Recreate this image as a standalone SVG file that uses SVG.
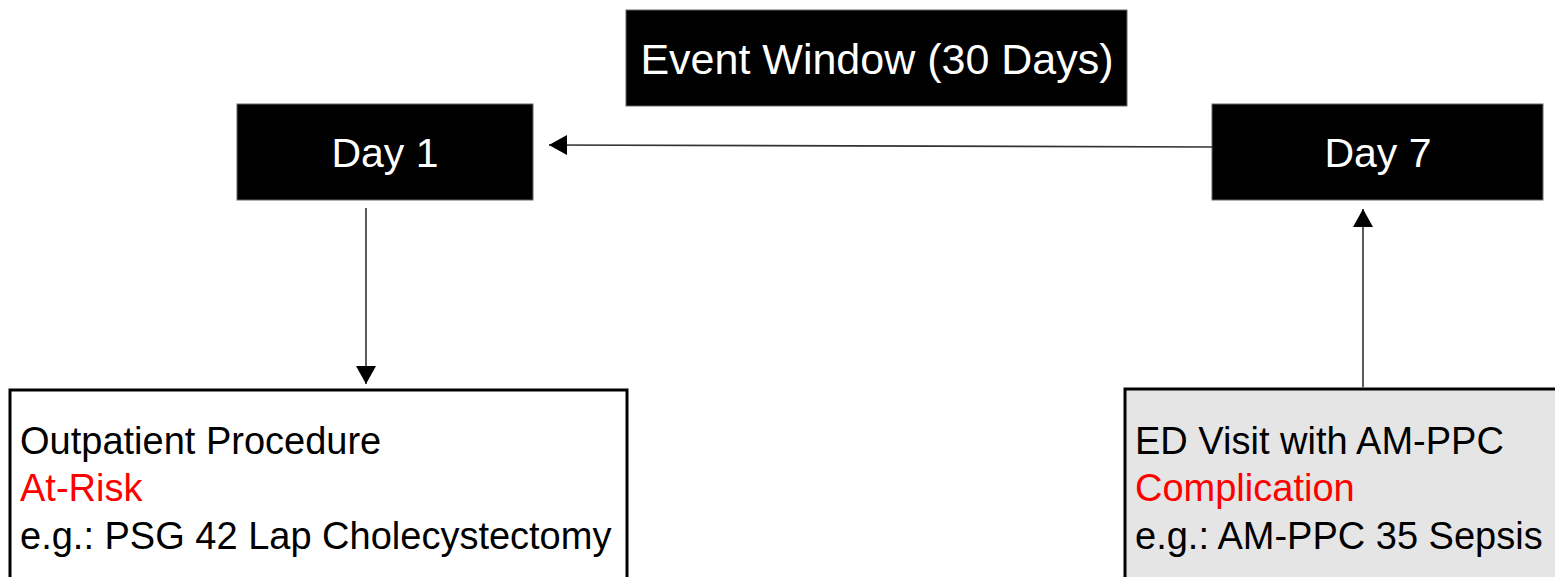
<svg xmlns="http://www.w3.org/2000/svg" width="1555" height="577" viewBox="0 0 1555 577">
<defs>
<style>
.dark{fill:#000;stroke:#666;stroke-width:1}
.hd{font-family:"Liberation Sans",Arial,sans-serif;fill:#fff;text-anchor:middle;dominant-baseline:central}
.body{font-family:"Liberation Sans",Arial,sans-serif;font-size:38px;fill:#000}
.red{fill:#ff0000}
.box{stroke:#000;stroke-width:3}
.conn{stroke:#333;stroke-width:1.6;fill:none}
</style>
<marker id="ah" viewBox="0 0 18 20" refX="18" refY="10" markerWidth="18" markerHeight="20" markerUnits="userSpaceOnUse" orient="auto">
<path d="M0,0 L18,10 L0,20 Z" fill="#000"/>
</marker>
</defs>
<rect width="1555" height="577" fill="#fff"/>
<g id="event-window">
<rect class="dark" x="626" y="10" width="501" height="96"/>
<text class="hd" x="877" y="59" font-size="43">Event Window (30 Days)</text>
</g>
<g id="day1">
<rect class="dark" x="237" y="104" width="296" height="96"/>
<text class="hd" x="385" y="153" font-size="41">Day 1</text>
</g>
<g id="day7">
<rect class="dark" x="1212" y="104" width="331" height="96"/>
<text class="hd" x="1378" y="153" font-size="41">Day 7</text>
</g>
<g id="outpatient">
<rect class="box" x="10" y="390" width="617" height="200" fill="#fff"/>
<text class="body" x="20" y="454">Outpatient Procedure</text>
<text class="body red" x="20" y="501">At-Risk</text>
<text class="body" x="20" y="549">e.g.: PSG 42 Lap Cholecystectomy</text>
</g>
<g id="ed-visit">
<rect class="box" x="1125" y="389" width="440" height="200" fill="#e5e5e5"/>
<text class="body" x="1135" y="454">ED Visit with AM-PPC</text>
<text class="body red" x="1135" y="501">Complication</text>
<text class="body" x="1135" y="549">e.g.: AM-PPC 35 Sepsis</text>
</g>
<g id="connectors">
<line class="conn" x1="1212" y1="147" x2="549" y2="145" marker-end="url(#ah)"/>
<line class="conn" x1="366" y1="208" x2="366" y2="384" marker-end="url(#ah)"/>
<line class="conn" x1="1363" y1="387" x2="1363" y2="209" marker-end="url(#ah)"/>
</g>
</svg>
